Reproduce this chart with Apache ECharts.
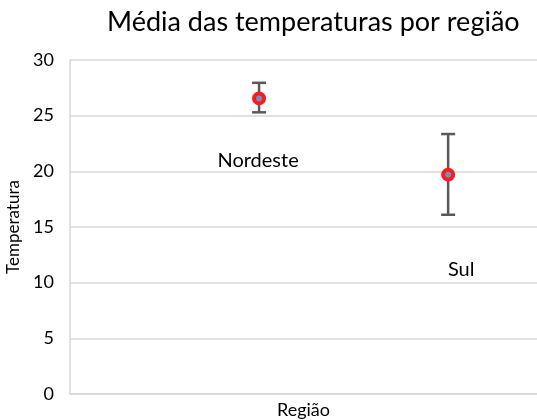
<!DOCTYPE html>
<html><head><meta charset="utf-8">
<script src="https://cdn.jsdelivr.net/npm/echarts@6/dist/echarts.min.js"></script>
<style>html,body{margin:0;padding:0;background:#fff}#c{width:537px;height:420px}</style>
</head><body><div id="c"></div>
<script>
const regions = ['Nordeste', 'Sul'];
const xPositions = [1, 2];
const means = [26.55, 19.7];
const lows = [25.3, 16.1];
const highs = [27.95, 23.35];
const yTicks = [0, 5, 10, 15, 20, 25, 30];

const font = 'Lato, "Open Sans", sans-serif';
const chart = echarts.init(document.getElementById('c'));
const pointData = means.map((m, i) => ({
  value: [xPositions[i], m],
  name: regions[i],
  label: { offset: i === 0 ? [-1, 62] : [13, 95] }
}));
const errData = means.map((m, i) => [xPositions[i], lows[i], highs[i]]);

chart.setOption({
  animation: false,
  title: {
    text: 'Média das temperaturas por região',
    left: 102, top: 4,
    textStyle: { fontFamily: font, fontSize: 27, fontWeight: 'normal', color: '#000' }
  },
  grid: { left: 70, right: 0, top: 60, bottom: 26, outerBoundsMode: 'none', containLabel: false },
  xAxis: {
    type: 'value', min: 0, max: 2.47,
    name: 'Região', nameLocation: 'middle', nameGap: 7,
    nameTextStyle: { fontFamily: font, fontSize: 18, color: '#000', verticalAlign: 'top' },
    axisLine: { show: true, lineStyle: { color: '#d9d9d9', width: 1.5 } },
    axisTick: { show: false }, axisLabel: { show: false }, splitLine: { show: false }
  },
  yAxis: {
    type: 'value', min: 0, max: 30, interval: 5,
    name: 'Temperatura', nameLocation: 'middle', nameGap: 47, nameRotate: 90,
    nameTextStyle: { fontFamily: font, fontSize: 17, color: '#000' },
    axisLine: { show: true, lineStyle: { color: '#d9d9d9', width: 1.5 } },
    axisTick: { show: false },
    axisLabel: { fontFamily: font, fontSize: 18, color: '#000', margin: 16,
      formatter: v => yTicks.includes(v) ? String(v) : '' },
    splitLine: { show: true, lineStyle: { color: '#d9d9d9', width: 1.5 } }
  },
  series: [
    {
      type: 'custom',
      data: errData,
      z: 2,
      renderItem: function (params, api) {
        const x = api.value(0);
        const lo = api.coord([x, api.value(1)]);
        const hi = api.coord([x, api.value(2)]);
        const w = 7;
        const style = { stroke: '#595959', lineWidth: 2.5 };
        return {
          type: 'group',
          children: [
            { type: 'line', shape: { x1: lo[0], y1: lo[1], x2: hi[0], y2: hi[1] }, style },
            { type: 'line', shape: { x1: lo[0] - w, y1: lo[1], x2: lo[0] + w, y2: lo[1] }, style },
            { type: 'line', shape: { x1: hi[0] - w, y1: hi[1], x2: hi[0] + w, y2: hi[1] }, style }
          ]
        };
      }
    },
    {
      type: 'scatter',
      data: pointData,
      z: 3,
      symbol: 'circle', symbolSize: 10,
      itemStyle: { color: '#6f8fc6', borderColor: '#ff1a1a', borderWidth: 4, opacity: 1 },
      label: {
        show: true, position: 'inside', formatter: '{b}',
        fontFamily: font, fontSize: 20, color: '#000'
      }
    }
  ]
});
</script></body></html>
